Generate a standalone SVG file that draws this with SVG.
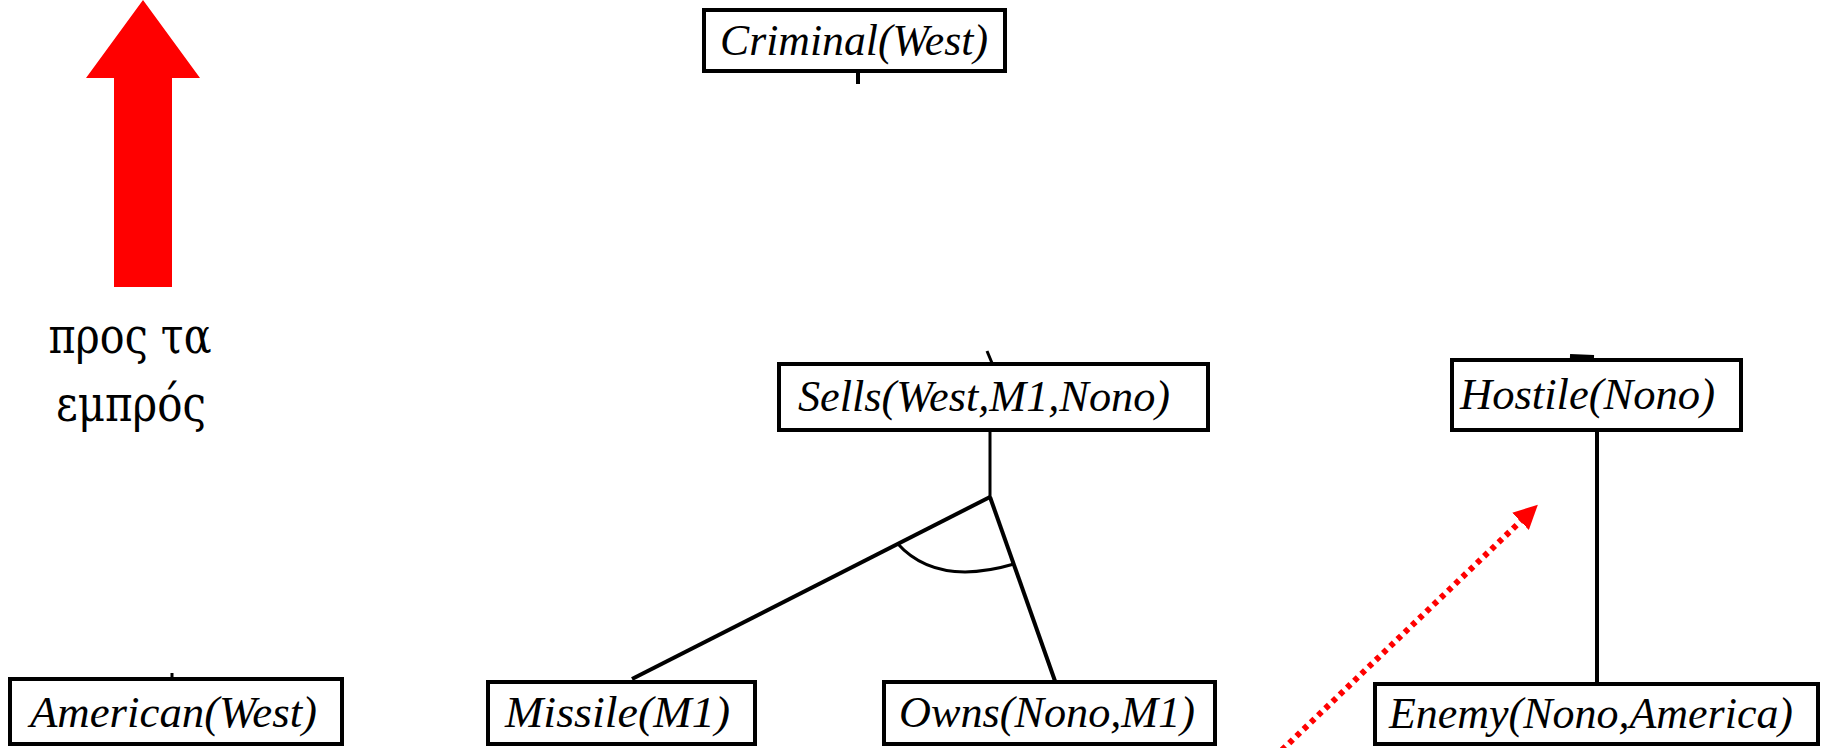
<svg xmlns="http://www.w3.org/2000/svg" width="1832" height="748" viewBox="0 0 1832 748">
  <style>
    .box { fill: #ffffff; stroke: #000000; stroke-width: 4; }
    .lbl { font-family: "Liberation Serif", "Times New Roman", serif; font-style: italic; font-size: 44px; fill: #000000; }
    .greek { font-family: "DejaVu Serif", "Liberation Serif", serif; font-size: 50px; fill: #000000; text-anchor: middle; }
    .edge { stroke: #000000; stroke-width: 3; fill: none; }
    .thick { stroke-width: 4; }
    .dotted { stroke: #ff0000; stroke-width: 6; stroke-dasharray: 5 5; fill: none; }
  </style>
  <defs>
    <marker id="redHead" viewBox="0 0 10 10" refX="2" refY="5" markerWidth="4" markerHeight="4" orient="auto" markerUnits="strokeWidth">
      <path d="M0,0 L10,5 L0,10 Z" fill="#ff0000"/>
    </marker>
  </defs>
  <rect width="1832" height="748" fill="#ffffff"/>

  <g id="direction">
    <polygon points="143,0 200,78 172,78 172,287 114,287 114,78 86,78" fill="#ff0000"/>
    <text class="greek" x="130" y="353" textLength="163" lengthAdjust="spacingAndGlyphs">προς τα</text>
    <text class="greek" x="131" y="421" textLength="150" lengthAdjust="spacingAndGlyphs">εμπρός</text>
  </g>

  <g id="connectors">
    <line class="edge thick" x1="858" y1="73" x2="858" y2="84"/>
    <line class="edge" x1="987" y1="351" x2="992" y2="363"/>
    <line class="edge thick" x1="1570" y1="356" x2="1594" y2="357"/>
    <line class="edge" x1="172" y1="673" x2="172" y2="678"/>
    <line class="edge" x1="990" y1="432" x2="990" y2="497"/>
    <line class="edge thick" x1="990" y1="497" x2="632" y2="679"/>
    <line class="edge thick" x1="990" y1="497" x2="1055" y2="681"/>
    <path class="edge" d="M897,543 Q936,587 1014,564"/>
    <line class="edge thick" x1="1597" y1="432" x2="1597" y2="683"/>
    <line class="dotted" x1="1282" y1="750" x2="1524" y2="518" marker-end="url(#redHead)"/>
  </g>

  <g id="criminal">
    <rect class="box" x="704" y="10" width="301" height="61"/>
    <text class="lbl" x="720" y="55" textLength="268" lengthAdjust="spacingAndGlyphs">Criminal(West)</text>
  </g>
  <g id="sells">
    <rect class="box" x="779" y="364" width="429" height="66"/>
    <text class="lbl" x="798" y="411" textLength="372" lengthAdjust="spacingAndGlyphs">Sells(West,M1,Nono)</text>
  </g>
  <g id="hostile">
    <rect class="box" x="1452" y="360" width="289" height="70"/>
    <text class="lbl" x="1460" y="409" textLength="255" lengthAdjust="spacingAndGlyphs">Hostile(Nono)</text>
  </g>
  <g id="american">
    <rect class="box" x="10" y="679" width="332" height="65"/>
    <text class="lbl" x="30" y="727" textLength="287" lengthAdjust="spacingAndGlyphs">American(West)</text>
  </g>
  <g id="missile">
    <rect class="box" x="488" y="682" width="267" height="62"/>
    <text class="lbl" x="505" y="727" textLength="225" lengthAdjust="spacingAndGlyphs">Missile(M1)</text>
  </g>
  <g id="owns">
    <rect class="box" x="884" y="682" width="331" height="62"/>
    <text class="lbl" x="899" y="727" textLength="296" lengthAdjust="spacingAndGlyphs">Owns(Nono,M1)</text>
  </g>
  <g id="enemy">
    <rect class="box" x="1375" y="684" width="443" height="60"/>
    <text class="lbl" x="1389" y="728" textLength="404" lengthAdjust="spacingAndGlyphs">Enemy(Nono,America)</text>
  </g>
</svg>
